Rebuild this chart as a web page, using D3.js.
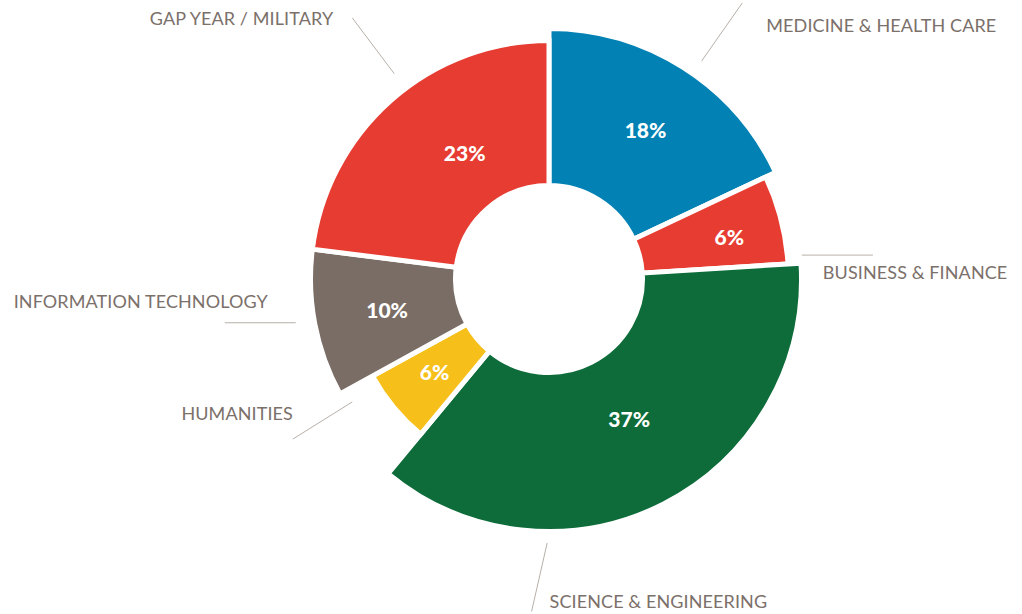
<!DOCTYPE html>
<html>
<head>
<meta charset="utf-8">
<script src="https://cdn.jsdelivr.net/npm/d3@7"></script>
<style>
  html, body { margin: 0; padding: 0; background: #fff; }
  svg { display: block; }
</style>
</head>
<body>
<div id="vis"></div>
<script>
// Donut: destinations of graduates, clockwise from 12 o'clock.

const CATEGORIES = [
  "MEDICINE & HEALTH CARE",
  "BUSINESS & FINANCE",
  "SCIENCE & ENGINEERING",
  "HUMANITIES",
  "INFORMATION TECHNOLOGY",
  "GAP YEAR / MILITARY",
];
const SHARES = [18, 6, 37, 6, 10, 23];
const COLORS = ["#0282b4", "#e63c31", "#0d6c39", "#f6bf1a", "#7a6d65", "#e63c31"];

// each wedge sticks out by a different amount
const OUTER_R = [250.5, 239.5, 252.5, 201.5, 238.5, 238.5];
const INNER_R = 93.5;

// where the % sits: radius and fraction of the way through the wedge
const PCT_POS = [
  { r: 177, t: 0.51 },
  { r: 185, t: 0.57 },
  { r: 162, t: 0.48 },
  { r: 148, t: 0.51 },
  { r: 165, t: 0.49 },
  { r: 151, t: 0.59 },
];

// leader lines: angle (deg, clockwise from top), radial start/end, optional horizontal run
const LEADERS = [
  { a: 35,    r0: 266, r1: 337, h: 0 },
  { a: 84.6,  r0: 254, r1: 254, h: 71 },
  { a: 180.4, r0: 264, r1: 333, h: 0, a1: 183 },
  { a: 238,   r0: 232, r1: 302, h: 0 },
  { a: 260.2, r0: 257, r1: 257, h: -71 },
  { a: 323,   r0: 257, r1: 327, h: 0 },
];
// label text offset from the leader's far end
const LABEL_POS = [
  { dx: 24,  dy: 29,  anchor: "start" },
  { dx: -50, dy: 24,  anchor: "start" },
  { dx: 18,  dy: -4,  anchor: "start" },
  { dx: 0,   dy: -19, anchor: "end" },
  { dx: 43,  dy: -15, anchor: "end" },
  { dx: -19, dy: 7,   anchor: "end" },
];

const W = 1022, H = 614;
const cx = 549, cy = 279;

const svg = d3.select("#vis").append("svg").attr("width", W).attr("height", H);
const g = svg.append("g").attr("transform", `translate(${cx},${cy})`);

const pie = d3.pie().sort(null).value(d => d);
const arcs = pie(SHARES);

const arc = d3.arc()
  .innerRadius(INNER_R)
  .outerRadius((d, i) => OUTER_R[i]);

g.selectAll("path.slice")
  .data(arcs)
  .join("path")
  .attr("class", "slice")
  .attr("d", (d, i) => arc(d, i))
  .attr("fill", (d, i) => COLORS[i])
  .attr("stroke", "#fff")
  .attr("stroke-width", 5)
  .attr("stroke-linejoin", "miter");

const polar = (rad, r) => [r * Math.sin(rad), -r * Math.cos(rad)];

g.selectAll("text.pct")
  .data(arcs)
  .join("text")
  .attr("class", "pct")
  .attr("transform", (d, i) => {
    const p = PCT_POS[i];
    const c = polar(d.startAngle + p.t * (d.endAngle - d.startAngle), p.r);
    return `translate(${c[0]},${c[1]})`;
  })
  .attr("text-anchor", "middle")
  .attr("dy", "0.36em")
  .style("font-family", "Lato, 'Open Sans', sans-serif")
  .style("font-weight", 900)
  .style("font-size", "21px")
  .style("fill", "#fff")
  .text(d => d.value + "%");

const deg = a => a * Math.PI / 180;

LEADERS.forEach((L, i) => {
  const p0 = polar(deg(L.a), L.r0);
  let p1 = polar(deg(L.a1 != null ? L.a1 : L.a), L.r1);
  if (L.h) p1 = [p0[0] + L.h, p0[1]];
  g.append("line")
    .attr("x1", p0[0]).attr("y1", p0[1])
    .attr("x2", p1[0]).attr("y2", p1[1])
    .attr("stroke", "#b8b0a9").attr("stroke-width", 1);

  const lp = LABEL_POS[i];
  g.append("text")
    .attr("x", p1[0] + lp.dx).attr("y", p1[1] + lp.dy)
    .attr("text-anchor", lp.anchor)
    .style("font-family", "Lato, 'Open Sans', sans-serif")
    .style("font-size", "18px")
    .style("letter-spacing", "0.1px")
    .style("fill", "#7b706a")
    .text(CATEGORIES[i]);
});
</script>
</body>
</html>
